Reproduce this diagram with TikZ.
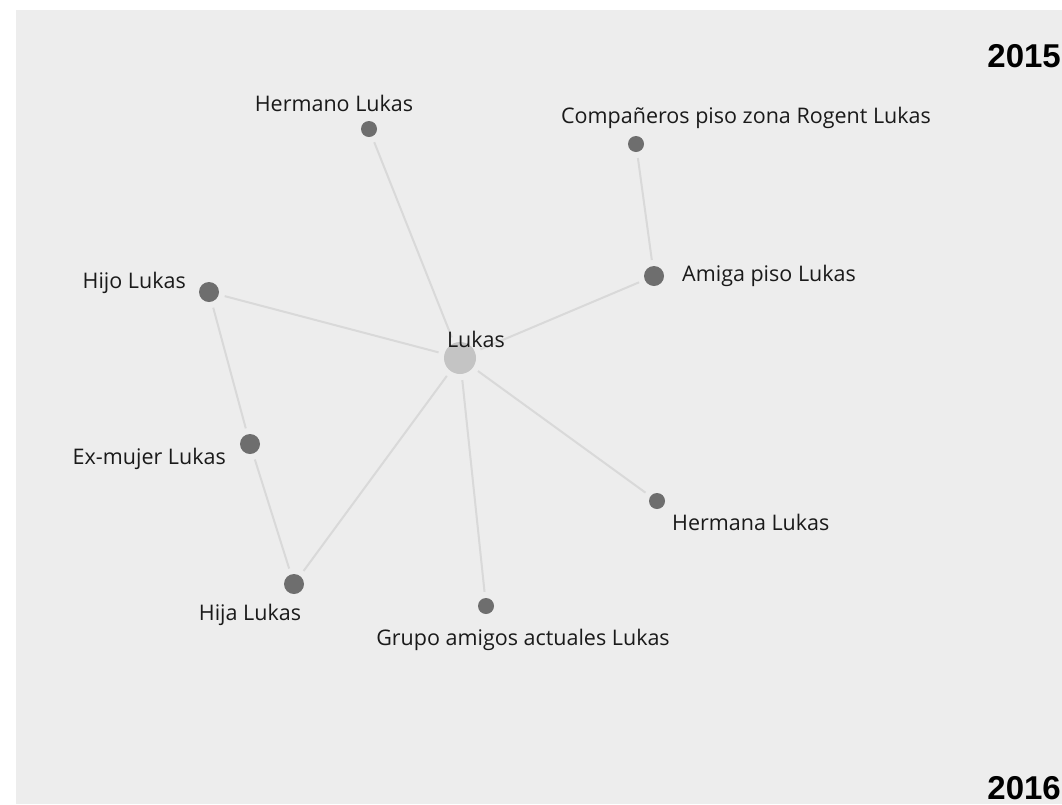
\documentclass[tikz,border=0pt]{standalone}
\usepackage{fontspec}
\setmainfont{Open Sans}
\newfontfamily\yearfont{Liberation Sans}
\definecolor{bg}{HTML}{EDEDED}
\definecolor{dotc}{HTML}{6E6E6E}
\definecolor{hubc}{HTML}{C4C4C4}
\definecolor{edgec}{HTML}{D9D9D9}
\definecolor{txt}{HTML}{1A1A1A}
\tikzset{
  small/.style={circle,fill=dotc,inner sep=0pt,minimum size=16pt},
  big/.style={circle,fill=dotc,inner sep=0pt,minimum size=20pt},
  hub/.style={circle,fill=hubc,inner sep=0pt,minimum size=32pt},
  lbl/.style={text=txt,inner sep=0pt,font=\fontsize{21.5}{24}\selectfont},
  year/.style={text=black,inner sep=0pt,font=\yearfont\bfseries\fontsize{33}{36}\selectfont},
  link/.style={draw=edgec,line width=2pt,shorten <=6pt,shorten >=6pt}
}
\begin{document}
\begin{tikzpicture}[x=1pt,y=-1pt]
\useasboundingbox (0,0) rectangle (1062,804);
\fill[white] (0,0) rectangle (1062,804);
\fill[bg] (16,10) rectangle (1062,804);
% nodes
\node[hub] (luk) at (460,358) {};
\node[small] (her) at (369,129) {};
\node[small] (comp) at (636,144) {};
\node[big] (ami) at (654,276) {};
\node[big] (hijo) at (209,292) {};
\node[big] (ex) at (250,444) {};
\node[big] (hija) at (294,584) {};
\node[small] (gru) at (486,606) {};
\node[small] (hna) at (657,501) {};
% edges
\draw[link] (luk) -- (her);
\draw[link] (luk) -- (ami);
\draw[link] (ami) -- (comp);
\draw[link] (luk) -- (hijo);
\draw[link] (hijo) -- (ex);
\draw[link] (ex) -- (hija);
\draw[link] (hija) -- (luk);
\draw[link] (luk) -- (gru);
\draw[link] (luk) -- (hna);
% labels
\node[lbl] (lluk) at (476,339) {Lukas};
\node[lbl] (lher) at (334,103) {Hermano Lukas};
\node[lbl] (lcomp) at (746,118) {Compañeros piso zona Rogent Lukas};
\node[lbl,anchor=west] (lami) at (682,276) {Amiga piso Lukas};
\node[lbl,anchor=east] (lhijo) at (186,283) {Hijo Lukas};
\node[lbl,anchor=east] (lex) at (226,459) {Ex-mujer Lukas};
\node[lbl] (lhija) at (250,615) {Hija Lukas};
\node[lbl] (lgru) at (523,640) {Grupo amigos actuales Lukas};
\node[lbl,anchor=west] (lhna) at (672,522) {Hermana Lukas};
% years
\node[year,anchor=base east] (y1) at (1061,67) {2015};
\node[year,anchor=base east] (y2) at (1061,799) {2016};
\end{tikzpicture}
\end{document}
